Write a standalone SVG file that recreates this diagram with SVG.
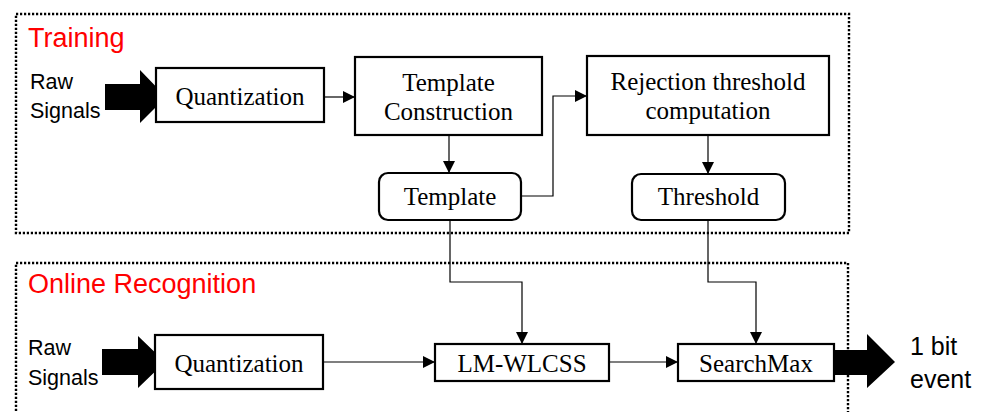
<svg xmlns="http://www.w3.org/2000/svg" width="987" height="412" viewBox="0 0 987 412">
<style>
.frame{fill:none;stroke:#000;stroke-width:2.4;stroke-dasharray:2.2 1.8}
.box{fill:#fff;stroke:#000;stroke-width:2.2}
.t{font-family:"Liberation Serif","Times New Roman",serif;font-size:25px;fill:#000;text-anchor:middle}
.s{font-family:"Liberation Sans",Arial,sans-serif;font-size:21.5px;fill:#000}
.h{font-family:"Liberation Sans",Arial,sans-serif;font-size:27px;fill:#ff0000}
.c{fill:none;stroke:#000;stroke-width:1.2}
.fat{fill:#000}
</style>
<defs>
<marker id="ah" viewBox="0 0 12 12" refX="12" refY="6" markerWidth="12" markerHeight="12" markerUnits="userSpaceOnUse" orient="auto">
<path d="M0,0 L12,6 L0,12 Z" fill="#000"/>
</marker>
</defs>

<g id="training-frame">
<rect class="frame" x="16" y="14" width="833" height="219"/>
<text class="h" x="28" y="47">Training</text>
</g>
<g id="online-frame">
<rect class="frame" x="16" y="263" width="832" height="200"/>
<text class="h" x="28" y="293">Online Recognition</text>
</g>

<g id="raw-train">
<text class="s" x="30" y="89">Raw</text>
<text class="s" x="30" y="118">Signals</text>
<path class="fat" d="M105,84 H140 V70 L166,97 L140,123 V110 H105 Z"/>
</g>
<g id="raw-online">
<text class="s" x="28" y="355">Raw</text>
<text class="s" x="28" y="385">Signals</text>
<path class="fat" d="M102,349 H138 V336 L165,362 L138,388 V375 H102 Z"/>
</g>

<g id="quant-train">
<rect class="box" x="156" y="68" width="168" height="54"/>
<text class="t" x="240" y="105">Quantization</text>
</g>
<g id="template-construction">
<rect class="box" x="355" y="57" width="187" height="78"/>
<text class="t" x="448.5" y="91">Template</text>
<text class="t" x="448.5" y="120">Construction</text>
</g>
<g id="template">
<rect class="box" x="379" y="173" width="142" height="47" rx="9"/>
<text class="t" x="450" y="205">Template</text>
</g>
<g id="rejection">
<rect class="box" x="587" y="56" width="242" height="79"/>
<text class="t" x="708" y="90">Rejection threshold</text>
<text class="t" x="708" y="119">computation</text>
</g>
<g id="threshold">
<rect class="box" x="632" y="174" width="153" height="46" rx="9"/>
<text class="t" x="708.5" y="205">Threshold</text>
</g>

<g id="quant-online">
<rect class="box" x="155" y="335" width="168" height="54"/>
<text class="t" x="239" y="372">Quantization</text>
</g>
<g id="lmwlcss">
<rect class="box" x="435" y="344" width="174" height="37"/>
<text class="t" x="522" y="372">LM-WLCSS</text>
</g>
<g id="searchmax">
<rect class="box" x="678" y="344" width="156" height="37"/>
<text class="t" x="756" y="372">SearchMax</text>
</g>

<g id="output">
<path class="fat" d="M835,350 H867 V334 L895,362 L867,388 V375 H835 Z"/>
<text class="s" x="910" y="355" style="font-size:25px">1 bit</text>
<text class="s" x="910" y="388" style="font-size:25px">event</text>
</g>

<g id="connectors">
<path class="c" d="M324,97 H355" marker-end="url(#ah)"/>
<path class="c" d="M449,135 V173" marker-end="url(#ah)"/>
<path class="c" d="M521,196 H553 V96 H587" marker-end="url(#ah)"/>
<path class="c" d="M708,135 V174" marker-end="url(#ah)"/>
<path class="c" d="M450,220 V282 H522 V344" marker-end="url(#ah)"/>
<path class="c" d="M708,220 V282 H756 V344" marker-end="url(#ah)"/>
<path class="c" d="M323,362 H435" marker-end="url(#ah)"/>
<path class="c" d="M609,362 H678" marker-end="url(#ah)"/>
</g>
</svg>
